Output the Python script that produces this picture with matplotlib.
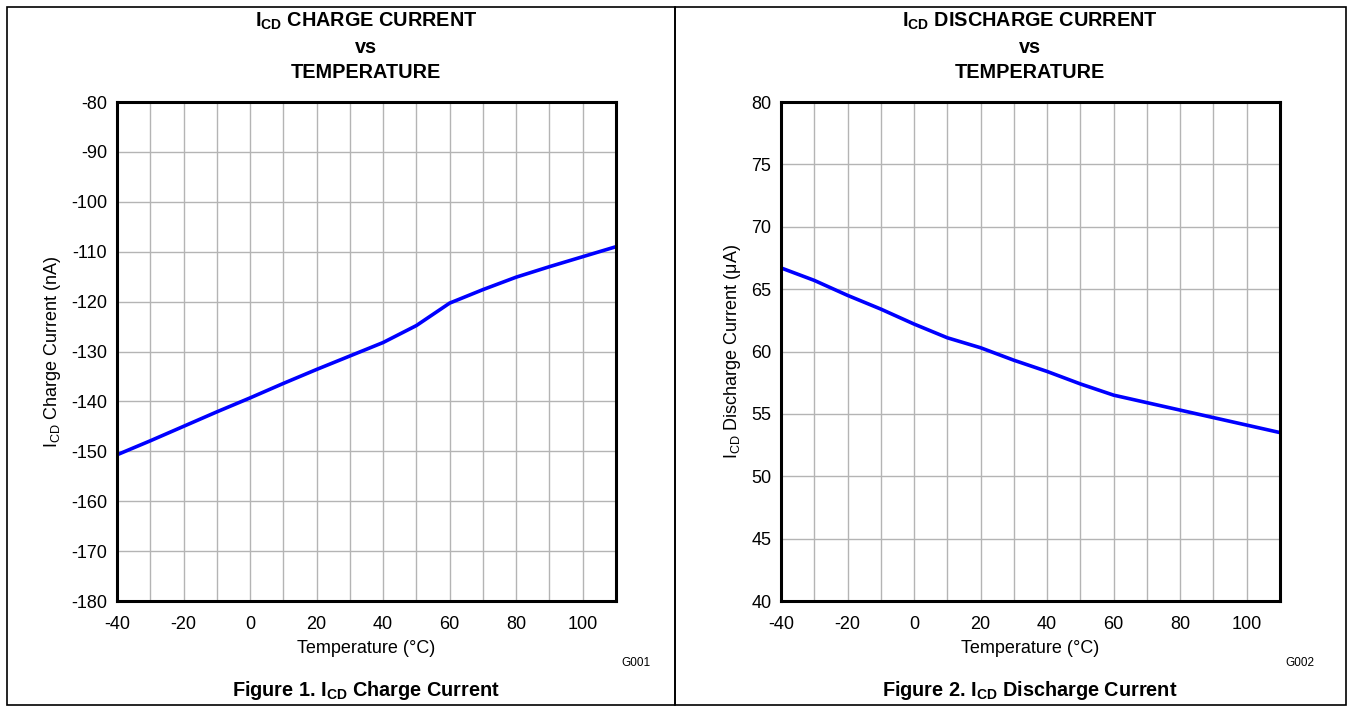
import matplotlib
matplotlib.use("Agg")
import matplotlib.pyplot as plt
from matplotlib.patches import Rectangle

plt.rcParams['font.family'] = ['Liberation Sans', 'DejaVu Sans']
plt.rcParams['mathtext.fontset'] = 'custom'
plt.rcParams['mathtext.rm'] = 'Liberation Sans'
plt.rcParams['mathtext.it'] = 'Liberation Sans'
plt.rcParams['mathtext.bf'] = 'Liberation Sans:bold'
plt.rcParams['axes.unicode_minus'] = False

# datos
temp = [-40, -30, -20, -10, 0, 10, 20, 30, 40, 50, 60, 70, 80, 90, 100, 110]
charge_nA = [-150.7, -147.9, -145.0, -142.1, -139.3, -136.4, -133.6, -130.9, -128.2,
             -124.8, -120.3, -117.6, -115.1, -113.0, -111.0, -109.0]
discharge_uA = [66.7, 65.7, 64.5, 63.4, 62.2, 61.1, 60.3, 59.3, 58.4, 57.4, 56.5,
                55.9, 55.3, 54.7, 54.1, 53.5]

W, H = 1353, 707
fig = plt.figure(figsize=(W / 100, H / 100), dpi=100)

# marcos de los paneles
for x0, x1 in [(7, 675), (675, 1346)]:
    fig.patches.append(Rectangle((x0 / W, 1 - 705 / H), (x1 - x0) / W, 698 / H,
                                 transform=fig.transFigure, fill=False,
                                 edgecolor='black', linewidth=1.2))

def panel(left_px, y, ylim, ystep, ylabel, title, caption, code):
    ax = fig.add_axes([left_px / W, 1 - 601 / H, 499 / W, 499 / H])
    ax.plot(temp, y, color='#0000ff', linewidth=2.6)
    ax.set_xlim(-40, 110)
    ax.set_ylim(*ylim)
    ax.set_xticks(range(-40, 111, 10), minor=True)
    ax.set_xticks(range(-40, 101, 20))
    ax.set_yticks(range(ylim[0], ylim[1] + 1, ystep))
    ax.grid(True, which='both', color='#b4b4b4', linewidth=1.0)
    ax.tick_params(which='both', length=0, labelsize=13)
    ax.tick_params(axis='y', pad=7)
    ax.tick_params(axis='x', pad=11)
    for s in ax.spines.values():
        s.set_linewidth(2.2)
    ax.set_xlabel('Temperature (°C)', fontsize=13, labelpad=5)
    ax.set_ylabel(ylabel, fontsize=13, labelpad=6)
    cx = (left_px + 249) / W
    fig.text(cx, 1 - 27 / H, title, ha='center', va='baseline', fontsize=14.3, fontweight='bold')
    fig.text(cx, 1 - 53 / H, 'vs', ha='center', va='baseline', fontsize=14.3, fontweight='bold')
    fig.text(cx, 1 - 78 / H, 'TEMPERATURE', ha='center', va='baseline', fontsize=14.3, fontweight='bold')
    fig.text(cx, 1 - 691 / H, caption, ha='center', va='center', fontsize=14.3, fontweight='bold')
    fig.text((left_px + 519) / W, 1 - 663 / H, code, ha='center', va='center', fontsize=8.5)
    return ax

panel(117, charge_nA, (-180, -80), 10, r'I$_{\mathrm{CD}}$ Charge Current (nA)',
      r'$\mathbf{I_{CD}}$ CHARGE CURRENT', r'Figure 1. $\mathbf{I_{CD}}$ Charge Current', 'G001')
panel(781, discharge_uA, (40, 80), 5, r'I$_{\mathrm{CD}}$ Discharge Current (μA)',
      r'$\mathbf{I_{CD}}$ DISCHARGE CURRENT', r'Figure 2. $\mathbf{I_{CD}}$ Discharge Current', 'G002')

fig.savefig('out.png', dpi=100)
